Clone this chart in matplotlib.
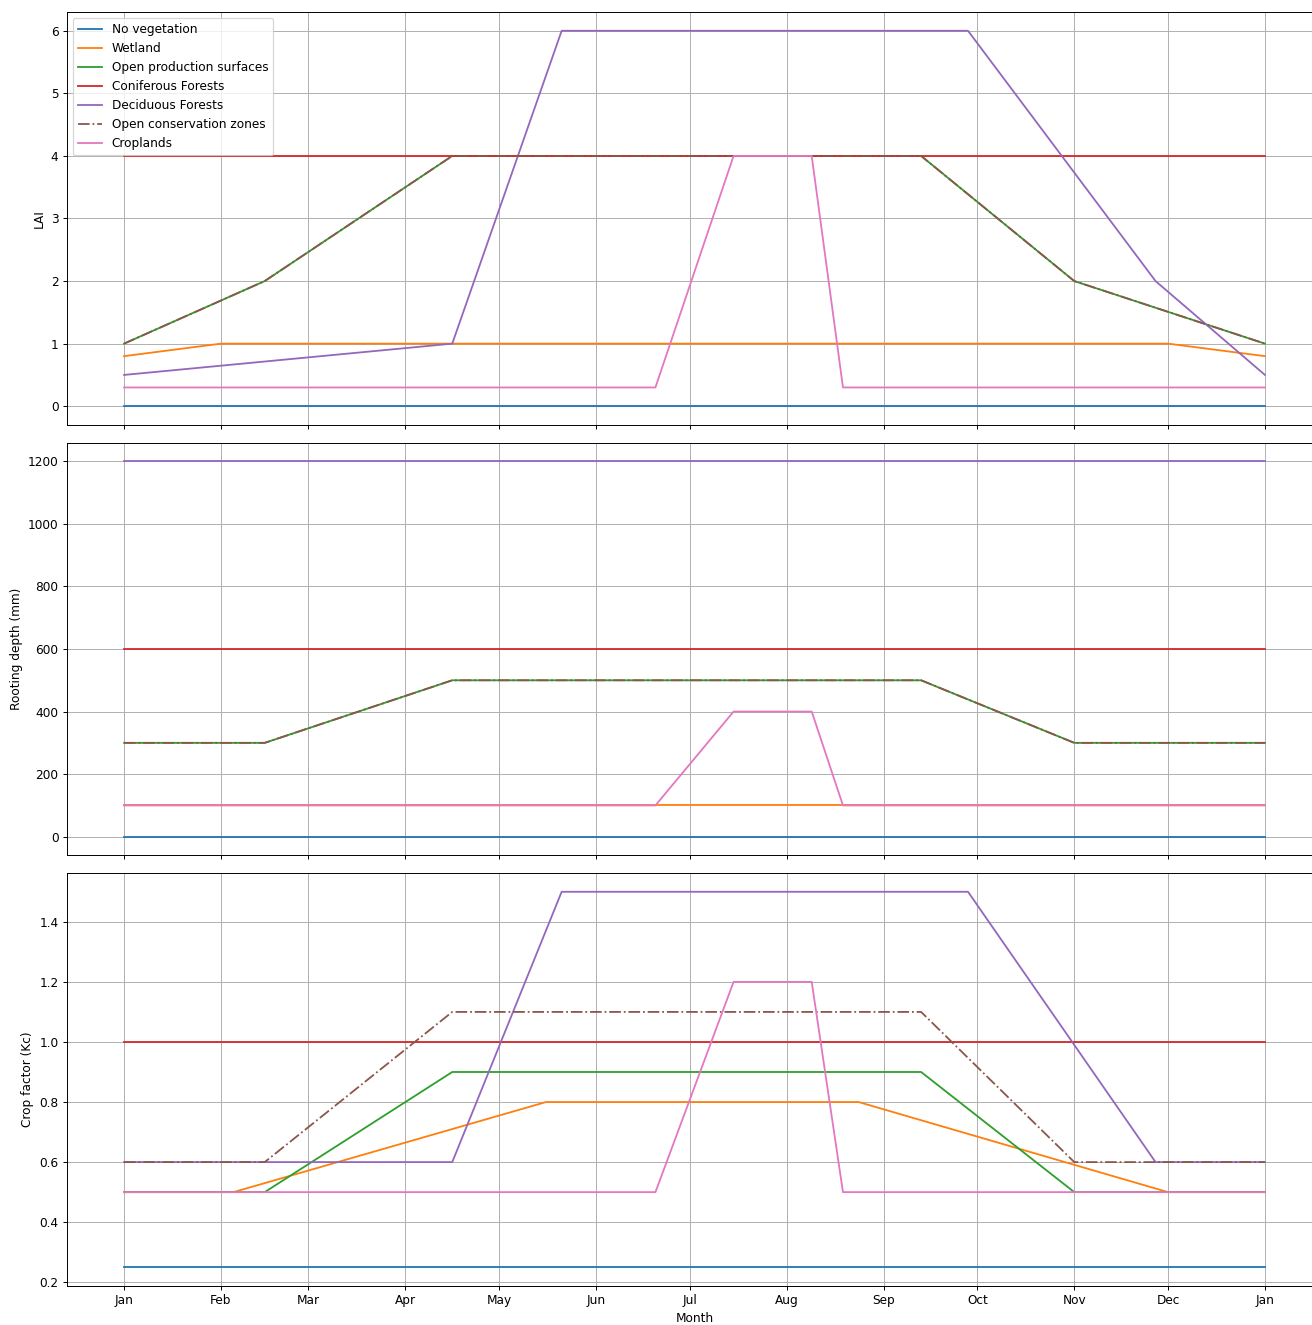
import numpy as np
import matplotlib.pyplot as plt
import matplotlib.dates as mdates

# land cover classes, drawn in this order (default colour cycle)
classes = ["No vegetation", "Wetland", "Open production surfaces",
           "Coniferous Forests", "Deciduous Forests",
           "Open conservation zones", "Croplands"]
styles = ["-", "-", "-", "-", "-", "-.", "-"]

# breakpoints, in days after 1 January
days_flat = [0, 365]
days_wetland_lai = [0, 31, 334, 365]
days_wetland_kc = [0, 35, 135, 235, 334, 365]
days_open = [0, 45, 105, 255, 304, 365]
days_decid = [0, 105, 140, 270, 330, 365]
days_crop = [0, 170, 195, 220, 230, 365]

# leaf area index
lai_none = [0, 0]
lai_wetland = [0.8, 1, 1, 0.8]
lai_prod = [1, 2, 4, 4, 2, 1]
lai_conif = [4, 4]
lai_decid = [0.5, 1, 6, 6, 2, 0.5]
lai_cons = [1, 2, 4, 4, 2, 1]
lai_crop = [0.3, 0.3, 4, 4, 0.3, 0.3]

# rooting depth (mm)
root_none = [0, 0]
root_wetland = [100, 100]
root_prod = [300, 300, 500, 500, 300, 300]
root_conif = [600, 600]
root_decid = [1200, 1200]
root_cons = [300, 300, 500, 500, 300, 300]
root_crop = [100, 100, 400, 400, 100, 100]

# crop factor
kc_none = [0.25, 0.25]
kc_wetland = [0.5, 0.5, 0.8, 0.8, 0.5, 0.5]
kc_prod = [0.5, 0.5, 0.9, 0.9, 0.5, 0.5]
kc_conif = [1.0, 1.0]
kc_decid = [0.6, 0.6, 1.5, 1.5, 0.6, 0.6]
kc_cons = [0.6, 0.6, 1.1, 1.1, 0.6, 0.6]
kc_crop = [0.5, 0.5, 1.2, 1.2, 0.5, 0.5]

panels = [
    ("LAI", [(days_flat, lai_none), (days_wetland_lai, lai_wetland),
             (days_open, lai_prod), (days_flat, lai_conif),
             (days_decid, lai_decid), (days_open, lai_cons),
             (days_crop, lai_crop)]),
    ("Rooting depth (mm)", [(days_flat, root_none), (days_flat, root_wetland),
                            (days_open, root_prod), (days_flat, root_conif),
                            (days_flat, root_decid), (days_open, root_cons),
                            (days_crop, root_crop)]),
    ("Crop factor (Kc)", [(days_flat, kc_none), (days_wetland_kc, kc_wetland),
                          (days_open, kc_prod), (days_flat, kc_conif),
                          (days_decid, kc_decid), (days_open, kc_cons),
                          (days_crop, kc_crop)]),
]

start = np.datetime64("2021-01-01")


def to_dates(days):
    return start + np.array(days, dtype="timedelta64[D]")


dpi = 87
fig, axes = plt.subplots(3, 1, sharex=True, figsize=(1312 / dpi, 1325 / dpi))
fig.subplots_adjust(left=67 / 1312, right=1322 / 1312,
                    top=1 - 12 / 1325, bottom=1 - 1286 / 1325, hspace=0.0424)

for ax, (ylabel, series) in zip(axes, panels):
    for name, ls, (days, vals) in zip(classes, styles, series):
        ax.plot(to_dates(days), vals, ls, label=name)
    ax.set_ylabel(ylabel)
    ax.grid(True)

axes[0].legend(loc="upper left")
axes[2].xaxis.set_major_locator(mdates.MonthLocator())
axes[2].xaxis.set_major_formatter(mdates.DateFormatter("%b"))
axes[2].set_xlabel("Month")

fig.savefig("out.png", dpi=dpi)
